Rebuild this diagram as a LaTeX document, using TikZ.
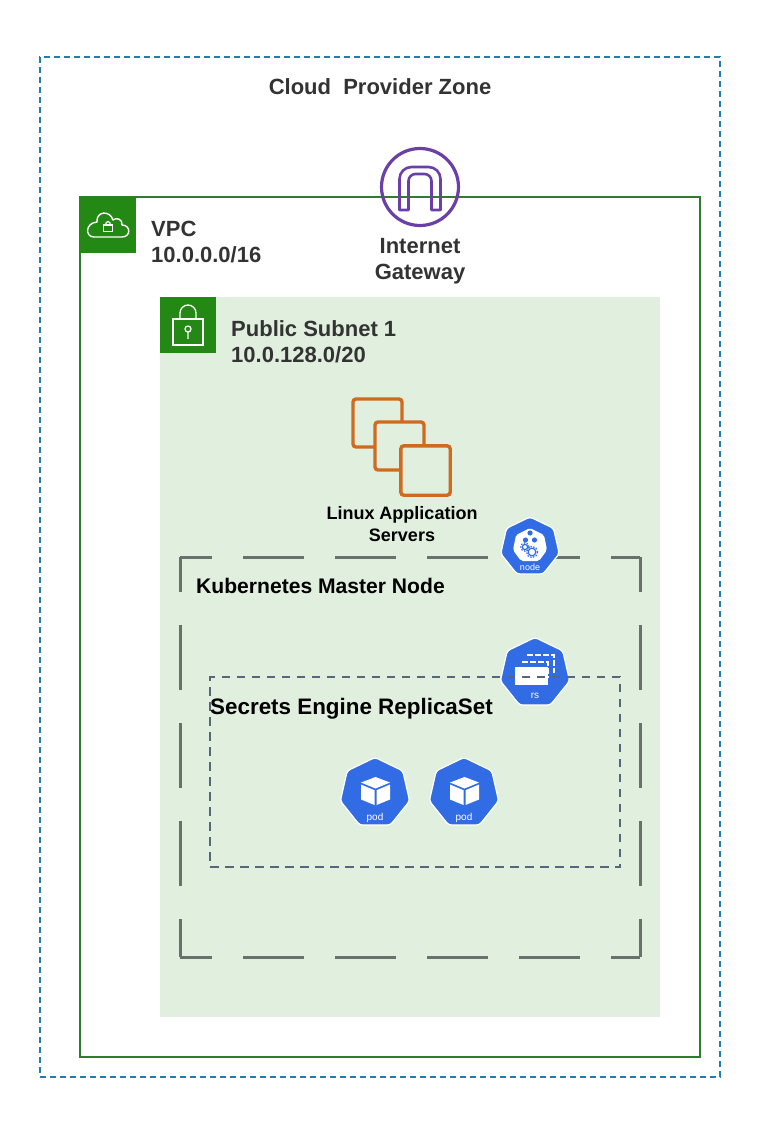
\documentclass[tikz,border=0pt]{standalone}
\usepackage{fontspec}
\setmainfont{Liberation Sans}
\usetikzlibrary{positioning,shapes.geometric}
\definecolor{zoneblue}{HTML}{1F7FB0}
\definecolor{vpcgreen}{HTML}{2E7D2E}
\definecolor{icongreen}{HTML}{248814}
\definecolor{subnetfill}{HTML}{E1EFDF}
\definecolor{gatepurple}{HTML}{6A3FA8}
\definecolor{serverorange}{HTML}{CF6A1E}
\definecolor{kubeblue}{HTML}{326CE5}
\definecolor{masterdash}{HTML}{6A716C}
\definecolor{rsdash}{HTML}{56677A}
\definecolor{labelgrey}{HTML}{333333}
\tikzset{
	pics/cloudicon/.style={code={
		\draw[white, line width=1.4pt, line join=round] (-14,12) -- (14,12)
			.. controls (23,12) and (23,0) .. (14,0)
			.. controls (15,-6) and (8,-8) .. (5,-5)
			.. controls (2,-15) and (-12,-14) .. (-11,-3)
			.. controls (-23,-2) and (-23,12) .. (-14,12) -- cycle;
		\draw[white, line width=1.2pt] (-4.5,0) rectangle (4.5,6.5);
		\draw[white, line width=1.2pt] (-2.5,0) .. controls (-2.5,-4.5) and (2.5,-4.5) .. (2.5,0);
	}},
	pics/lockicon/.style={code={
		\draw[white, line width=1.3pt] (-15,-6) rectangle (15,20);
		\draw[white, line width=1.3pt] (-8,-6) -- (-8,-12) arc[start angle=180, end angle=0, x radius=8, y radius=-8] -- (8,-6);
		\draw[white, line width=1.3pt] (0,4) circle (3) (0,7) -- (0,14);
	}},
	pics/gateicon/.style={code={
		\draw[gatepurple, line width=2.6pt, line join=round] (-20.5,23) [rounded corners=12pt] -- (-20.5,-20) -- (20.5,-20) [sharp corners] -- (20.5,23) -- (11.5,23) [rounded corners=7pt] -- (11.5,-13) -- (-11.5,-13) [sharp corners] -- (-11.5,23) -- cycle;
	}},
	pics/podcube/.style={code={
		\fill[white] (0,-14) -- (14.5,-8.5) -- (0,-2.5) -- (-14.5,-8.5) -- cycle;
		\fill[white] (-14.5,-6.5) -- (-1,-0.8) -- (-1,14) -- (-14.5,8.5) -- cycle;
		\fill[white] (14.5,-6.5) -- (1,-0.8) -- (1,14) -- (14.5,8.5) -- cycle;
	}},
	pics/nodeglyph/.style={code={
		\fill[white, rounded corners=2pt] (0,-19) -- (14,-12) -- (17,3) -- (9,14) -- (-9,14) -- (-17,3) -- (-14,-12) -- cycle;
		\fill[kubeblue] (0,-14) circle (2.6) (-4.5,-7) circle (2.6) (4.5,-7) circle (2.6);
		\draw[kubeblue, line width=1.2pt] (-5,0) circle (2.6) (2,5) circle (3.8);
		\draw[kubeblue, line width=1.2pt, dash pattern=on 1.5pt off 1.5pt] (-5,0) circle (4.2) (2,5) circle (5.6);
	}},
	pics/rsglyph/.style={code={
		\draw[white, line width=1.8pt, dash pattern=on 6pt off 2pt] (-8,-18) -- (19,-18) -- (19,0);
		\draw[white, line width=1.8pt, dash pattern=on 6pt off 2pt] (-13,-11) -- (13,-11) -- (13,5);
		\fill[white] (-20,-6) rectangle (13,12);
	}},
}
\begin{document}
\begin{tikzpicture}[
	x=1pt, y=-1pt,
	zonebox/.style={rectangle, draw=zoneblue, line width=1.4pt, dash pattern=on 6pt off 4pt, inner sep=0pt},
	vpcbox/.style={rectangle, draw=vpcgreen, line width=1.6pt, inner sep=0pt, outer sep=0pt},
	subnetbox/.style={rectangle, fill=subnetfill, inner sep=0pt, outer sep=0pt},
	iconbox/.style={rectangle, fill=icongreen, minimum size=56pt, inner sep=0pt, outer sep=0pt},
	masterbox/.style={rectangle, inner sep=0pt, outer sep=0pt},
	masterwide/.style={line width=3pt, draw=masterdash, dash pattern=on 61pt off 31pt, dash phase=29pt},
	mastertall/.style={line width=3pt, draw=masterdash, dash pattern=on 65pt off 33pt, dash phase=30pt},
	rsbox/.style={rectangle, draw=rsdash, line width=1.4pt, dash pattern=on 8.5pt off 6.5pt, inner sep=0pt},
	kubebadge/.style={regular polygon, regular polygon sides=7, fill=kubeblue, draw=white, line width=1.2pt, rounded corners=3pt, inner sep=0pt},
	badgetext/.style={text=white, font=\fontsize{10}{12}\selectfont, inner sep=0pt},
	mainlabel/.style={text=labelgrey, font=\fontsize{22}{26.5}\bfseries\selectfont, align=left, inner sep=0pt},
	kubelabel/.style={text=black, font=\fontsize{21.1}{26}\bfseries\selectfont, inner sep=0pt},
	serverlabel/.style={text=black, font=\fontsize{18}{22}\bfseries\selectfont, align=center, inner sep=0pt},
	serveredge/.style={draw=serverorange, line width=3.4pt, rounded corners=3pt},
]
\useasboundingbox (0,0) rectangle (774,1137);

\node[zonebox, minimum width=680pt, minimum height=1020pt] (zone) at (380,567) {};
\node[mainlabel, anchor=base] (zonelabel) at (380,95) {Cloud\ \ Provider Zone};
\node[vpcbox, minimum width=620pt, minimum height=860pt] (vpc) at (390,627) {};
\node[iconbox, anchor=north west] (vpcicon) at (vpc.north west) {};
\pic at (vpcicon.center) {cloudicon};
\node[mainlabel, right=15pt of vpcicon.north east, yshift=-23.5pt, anchor=north west] (vpclabel) {VPC\\10.0.0.0/16};

\node[circle, draw=gatepurple, line width=3.2pt, minimum size=77pt, inner sep=0pt] (gateway) at (420,187) {};
\pic at (gateway.center) {gateicon};
\node[mainlabel, align=center, anchor=north] (gatelabel) at (420,238) {Internet\\Gateway};

\node[subnetbox, minimum width=500pt, minimum height=720pt] (subnet) at (410,657) {};
\node[iconbox, anchor=north west] (subneticon) at (subnet.north west) {};
\pic at (subneticon.center) {lockicon};
\node[mainlabel, right=15pt of subneticon.north east, yshift=-23pt, anchor=north west] (subnetlabel) {Public Subnet 1\\10.0.128.0/20};

\node[inner sep=0pt, minimum size=49pt] (serverc) at (425.5,470.5) {};
\draw[serveredge] (375,447) -- (353,447) -- (353,399) -- (402,399) -- (402,421);
\draw[serveredge] (400,470) -- (375,470) -- (375,422) -- (424,422) -- (424,446);
\draw[serveredge] (serverc.south west) rectangle (serverc.north east);
\node[serverlabel, anchor=north] (serverlabel) at (402,506) {Linux Application\\Servers};

\node[masterbox, minimum width=460pt, minimum height=400pt] (master) at (410,757) {};
\draw[masterwide] (master.north west) -- (master.north east);
\draw[masterwide] (master.south west) -- (master.south east);
\draw[mastertall] (master.north west) -- (master.south west);
\draw[mastertall] (master.north east) -- (master.south east);
\node[kubebadge, minimum size=60pt] (nodebadge) at (530,547) {};
\pic at (nodebadge.center) {nodeglyph};
\node[badgetext, font=\fontsize{9}{11}\selectfont] (nodetext) at (530,567.5) {node};
\node[kubelabel, anchor=base west] (masterlabel) at (196,593) {Kubernetes Master Node};

\node[kubebadge, minimum size=71pt] (rsbadge) at (535,673) {};
\pic at (rsbadge.center) {rsglyph};
\node[badgetext] (rstext) at (535,696) {rs};
\node[rsbox, minimum width=410pt, minimum height=190pt] (replicaset) at (415,772) {};
\node[kubelabel, font=\fontsize{22.4}{26}\bfseries\selectfont, anchor=base west] (rslabel) at (210,714) {Secrets Engine ReplicaSet};

\node[kubebadge, minimum size=71pt] (poda) at (375,793) {};
\pic at (375.5,791) {podcube};
\node[badgetext] (podatext) at (375,817.5) {pod};
\node[kubebadge, minimum size=71pt] (podb) at (464,793) {};
\pic at (464.5,791) {podcube};
\node[badgetext] (podbtext) at (464,817.5) {pod};

\end{tikzpicture}
\end{document}
